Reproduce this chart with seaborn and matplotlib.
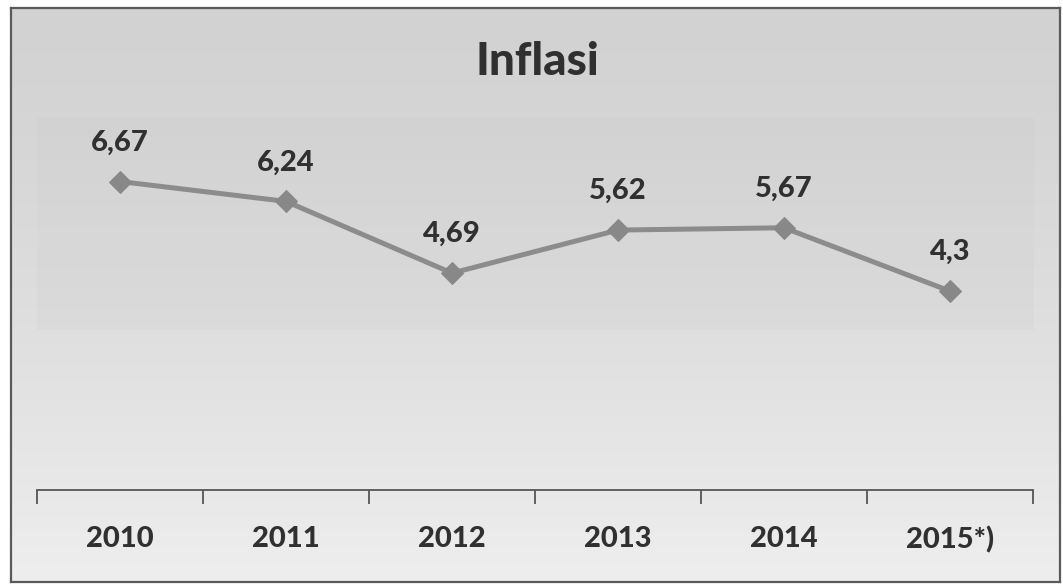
import numpy as np
import pandas as pd
import matplotlib
matplotlib.use("Agg")
import matplotlib.pyplot as plt
from matplotlib.patches import Rectangle
import seaborn as sns

years = ["2010", "2011", "2012", "2013", "2014", "2015*)"]
inflation = [6.67, 6.24, 4.69, 5.62, 5.67, 4.3]
value_labels = ["6,67", "6,24", "4,69", "5,62", "5,67", "4,3"]

sns.set_theme(style="white")
plt.rcParams["font.family"] = ["Lato", "DejaVu Sans"]

W, H = 1063, 584
fig = plt.figure(figsize=(W / 100, H / 100), dpi=100, facecolor="white")

# framed panel with soft grey gradient
bg = fig.add_axes([11 / W, 1 - 582 / H, (1060 - 11) / W, (582 - 8) / H])
grad = np.linspace(0, 1, 256)[:, None]
shade = 210 + 28 * grad ** 1.3
img = np.repeat(shade, 4, axis=1) / 255.0
bg.imshow(np.dstack([img, img, img]), aspect="auto", extent=[0, 1, 0, 1],
          origin="upper", interpolation="bicubic")
bg.add_patch(Rectangle((0.025, 1 - (330 - 8) / 574), 0.95, (330 - 118) / 574,
                       facecolor=(0.74, 0.74, 0.74), alpha=0.1, lw=0))
bg.set_xlim(0, 1)
bg.set_ylim(0, 1)
bg.set_xticks([])
bg.set_yticks([])
for s in bg.spines.values():
    s.set_color("#5a5a5a")
    s.set_linewidth(1.6)

ax = fig.add_axes([37 / W, 1 - 490 / H, (1033 - 37) / W, (490 - 120) / H])
ax.patch.set_alpha(0)

df = pd.DataFrame({"pos": np.arange(len(years)), "value": inflation})
sns.lineplot(data=df, x="pos", y="value", ax=ax, color="#8c8c8c",
             linewidth=3.6, marker="D", markersize=11,
             markerfacecolor="#888888", markeredgecolor="#888888")

for i, (v, lab) in enumerate(zip(inflation, value_labels)):
    ax.annotate(lab, (i, v), xytext=(0, 28), textcoords="offset points",
                ha="center", va="center", fontsize=21, fontweight="black",
                color="#303030")

ax.set_xlim(-0.5, len(years) - 0.5)
ax.set_ylim(0, 8)
ax.set_yticks([])
ax.set_xticks(np.arange(len(years)))
ax.set_xticklabels(years, fontsize=21, fontweight="black", color="#303030")
ax.set_xticks(np.arange(len(years) + 1) - 0.5, minor=True)
ax.tick_params(axis="x", which="major", length=0, pad=26)
ax.tick_params(axis="x", which="minor", length=10, width=1.3,
               color="#555555", direction="out", bottom=True)
ax.set_xlabel("")
ax.set_ylabel("")
for side in ["top", "right", "left"]:
    ax.spines[side].set_visible(False)
ax.spines["bottom"].set_color("#555555")
ax.spines["bottom"].set_linewidth(1.3)

fig.text(537 / W, 1 - 62 / H, "Inflasi", ha="center", va="center",
         fontsize=33, fontweight="black", color="#303030")

fig.savefig("out.png", dpi=100, facecolor="white")
